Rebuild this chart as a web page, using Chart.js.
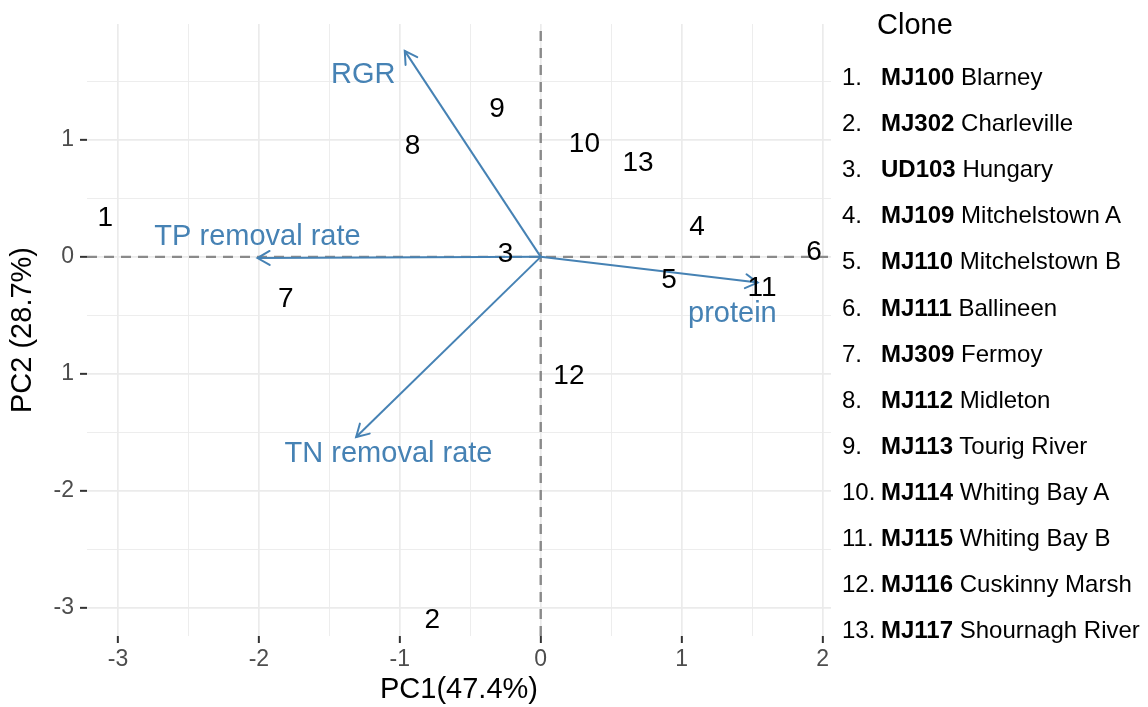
<!DOCTYPE html>
<html>
<head>
<meta charset="utf-8">
<script src="https://cdn.jsdelivr.net/npm/chart.js@4.4.1/dist/chart.umd.min.js"></script>
<style>
  html, body { margin: 0; padding: 0; background: #fff; }
  #wrap { position: relative; width: 1148px; height: 707px; font-family: "Liberation Sans", Arial, sans-serif; }
  #biplot { position: absolute; left: 0; top: 0; }
  #legend { position: absolute; left: 842px; top: 0; width: 306px; height: 707px; color: #000; }
  #legend .title { position: absolute; left: 35px; top: 6px; font-size: 29px; line-height: 36px; }
  #legend .row { position: absolute; left: 0; white-space: nowrap; font-size: 24px; line-height: 28px; }
  #legend .num { display: inline-block; width: 39px; }
  #legend b { font-weight: bold; }
</style>
</head>
<body>
<div id="wrap">
  <canvas id="biplot" width="1148" height="707"></canvas>
  <div id="legend"><div class="title">Clone</div></div>
</div>
<script>
// clone scores (PC1, PC2), labelled by their number
const cloneIds = ["1", "2", "3", "4", "5", "6", "7", "8", "9", "10", "11", "12", "13"];
const pc1 = [-3.09, -0.77, -0.25, 1.11, 0.91, 1.94, -1.81, -0.91, -0.31, 0.31, 1.57, 0.20, 0.69];
const pc2 = [0.34, -3.10, 0.03, 0.26, -0.19, 0.05, -0.35, 0.95, 1.27, 0.97, -0.26, -1.01, 0.81];

// loading arrows
const loadingNames = ["RGR", "TP removal rate", "protein", "TN removal rate"];
const loadingX = [-0.965, -2.01, 1.54, -1.31];
const loadingY = [1.76, -0.01, -0.22, -1.54];
const loadingLabelX = [-1.26, -2.01, 1.36, -1.08];
const loadingLabelY = [1.56, 0.18, -0.48, -1.68];

// axes
const xTickValues = [-3, -2.5, -2, -1.5, -1, -0.5, 0, 0.5, 1, 1.5, 2];
const xTickLabels = ["-3", "", "-2", "", "-1", "", "0", "", "1", "", "2"];
const yTickValues = [-3, -2.5, -2, -1.5, -1, -0.5, 0, 0.5, 1, 1.5];
const yTickLabels = ["-3", "", "-2", "", "1", "", "0", "", "1", ""];

// legend
const legendCodes = ["MJ100", "MJ302", "UD103", "MJ109", "MJ110", "MJ111", "MJ309", "MJ112", "MJ113", "MJ114", "MJ115", "MJ116", "MJ117"];
const legendNames = ["Blarney", "Charleville", "Hungary", "Mitchelstown A", "Mitchelstown B", "Ballineen", "Fermoy", "Midleton", "Tourig River", "Whiting Bay A", "Whiting Bay B", "Cuskinny Marsh", "Shournagh River"];

const FONT = "'Liberation Sans', Arial, sans-serif";
const arrowColor = "#4682b4";

function buildLegend() {
  const box = document.getElementById("legend");
  legendCodes.forEach((code, i) => {
    const row = document.createElement("div");
    row.className = "row";
    row.style.top = (77 + i * 46.1 - 14) + "px";
    row.innerHTML = '<span class="num">' + cloneIds[i] + '.</span><b>' + code + '</b> ' + legendNames[i];
    box.appendChild(row);
  });
}

// arrowheads and all text labels inside the panel
const biplotText = {
  id: "biplotText",
  afterDatasetsDraw(chart) {
    const { ctx, scales: { x, y } } = chart;
    const ox = x.getPixelForValue(0), oy = y.getPixelForValue(0);
    ctx.save();
    ctx.strokeStyle = arrowColor;
    ctx.lineWidth = 2;
    ctx.lineCap = "round";
    const headLen = 14, headAng = Math.PI / 6;
    loadingNames.forEach((name, i) => {
      const px = x.getPixelForValue(loadingX[i]);
      const py = y.getPixelForValue(loadingY[i]);
      const ang = Math.atan2(py - oy, px - ox);
      ctx.beginPath();
      ctx.moveTo(px - headLen * Math.cos(ang - headAng), py - headLen * Math.sin(ang - headAng));
      ctx.lineTo(px, py);
      ctx.lineTo(px - headLen * Math.cos(ang + headAng), py - headLen * Math.sin(ang + headAng));
      ctx.stroke();
    });

    ctx.textAlign = "center";
    ctx.textBaseline = "middle";
    ctx.font = "29px " + FONT;
    ctx.fillStyle = arrowColor;
    loadingNames.forEach((name, i) => {
      ctx.fillText(name, x.getPixelForValue(loadingLabelX[i]), y.getPixelForValue(loadingLabelY[i]) + 1);
    });
    ctx.font = "28px " + FONT;
    ctx.fillStyle = "#000";
    cloneIds.forEach((id, i) => {
      ctx.fillText(id, x.getPixelForValue(pc1[i]), y.getPixelForValue(pc2[i]) + 1);
    });
    ctx.restore();
  }
};

function gridWidth(ctx) {
  return ctx.tick && Number.isInteger(ctx.tick.value) ? 1.7 : 0.9;
}
function tickMarkColor(ctx) {
  return ctx.tick && Number.isInteger(ctx.tick.value) ? "#333333" : "rgba(0,0,0,0)";
}

function generateBiplot() {
  const datasets = [
    {
      data: [{ x: -3.22, y: 0 }, { x: 2.06, y: 0 }],
      showLine: true,
      borderColor: "#8a8a8a",
      borderWidth: 2.4,
      borderDash: [10, 7],
      pointRadius: 0,
      order: 3,
    },
    {
      data: [{ x: 0, y: -3.24 }, { x: 0, y: 1.99 }],
      showLine: true,
      borderColor: "#8a8a8a",
      borderWidth: 2.4,
      borderDash: [10, 7],
      pointRadius: 0,
      order: 3,
    },
  ];
  loadingNames.forEach((name, i) => {
    datasets.push({
      label: name,
      data: [{ x: 0, y: 0 }, { x: loadingX[i], y: loadingY[i] }],
      showLine: true,
      borderColor: arrowColor,
      borderWidth: 2,
      pointRadius: 0,
      order: 1,
    });
  });
  datasets.push({
    label: "clones",
    data: pc1.map((v, i) => ({ x: v, y: pc2[i] })),
    pointRadius: 0,
    order: 0,
  });

  const config = {
    responsive: false,
    animation: false,
    events: [],
    layout: { padding: { left: 0, top: 24, right: 317, bottom: 0 } },
    scales: {
      x: {
        type: "linear",
        min: -3.22,
        max: 2.06,
        afterBuildTicks: (scale) => { scale.ticks = xTickValues.map((v) => ({ value: v })); },
        afterFit: (scale) => { scale.height = 71; },
        border: { display: false },
        grid: {
          color: "#ebebeb",
          lineWidth: gridWidth,
          tickColor: tickMarkColor,
          tickLength: 7,
          tickWidth: 2,
        },
        ticks: {
          autoSkip: false,
          maxRotation: 0,
          padding: 3,
          color: "#4d4d4d",
          font: { family: FONT, size: 23 },
          callback: (value) => xTickLabels[xTickValues.indexOf(value)],
        },
        title: {
          display: true,
          text: "PC1(47.4%)",
          color: "#000",
          font: { family: FONT, size: 29 },
          padding: { top: 0, bottom: 0 },
        },
      },
      y: {
        type: "linear",
        min: -3.24,
        max: 1.99,
        afterBuildTicks: (scale) => { scale.ticks = yTickValues.map((v) => ({ value: v })); },
        afterFit: (scale) => { scale.width = 87; },
        border: { display: false },
        grid: {
          color: "#ebebeb",
          lineWidth: gridWidth,
          tickColor: tickMarkColor,
          tickLength: 7,
          tickWidth: 2,
        },
        ticks: {
          autoSkip: false,
          padding: 6,
          color: "#4d4d4d",
          font: { family: FONT, size: 23 },
          callback: (value) => yTickLabels[yTickValues.indexOf(value)],
        },
        title: {
          display: true,
          text: "PC2 (28.7%)",
          color: "#000",
          font: { family: FONT, size: 29 },
          padding: { top: 6, bottom: 0 },
        },
      },
    },
    plugins: {
      legend: { display: false },
      tooltip: { enabled: false },
    },
  };

  const ctx = document.getElementById("biplot").getContext("2d");
  new Chart(ctx, {
    type: "scatter",
    data: { datasets },
    options: config,
    plugins: [biplotText],
  });
}

buildLegend();
generateBiplot();
</script>
</body>
</html>
